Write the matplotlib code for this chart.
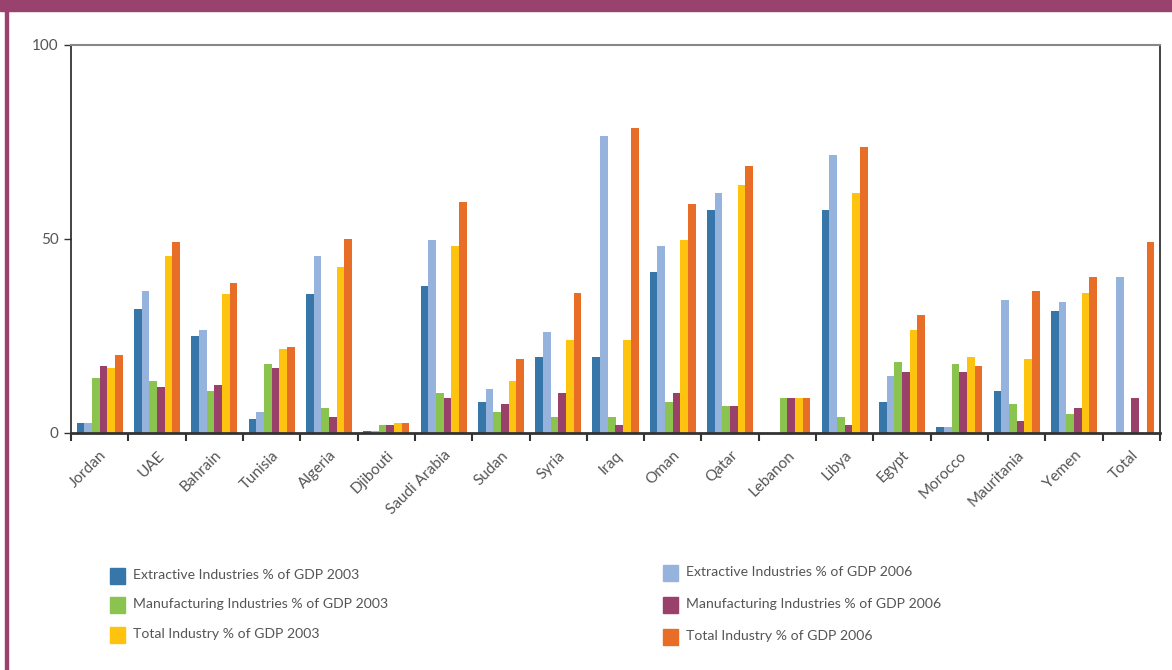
import numpy as np
import matplotlib
matplotlib.use("Agg")
import matplotlib.pyplot as plt
from matplotlib.patches import Rectangle

countries = ["Jordan", "UAE", "Bahrain", "Tunisia", "Algeria", "Djibouti",
             "Saudi Arabia", "Sudan", "Syria", "Iraq", "Oman", "Qatar",
             "Lebanon", "Libya", "Egypt", "Morocco", "Mauritania", "Yemen", "Total"]

extractive_2003 = [2.7, 31.9, 24.9, 3.7, 35.8, 0.6, 38.0, 8.0, 19.6, 19.6, 41.6, 57.5,
                   0, 57.5, 8.0, 1.6, 10.9, 31.4, 0]
extractive_2006 = [2.7, 36.7, 26.5, 5.5, 45.5, 0.6, 49.8, 11.4, 26.0, 76.5, 48.3, 61.9,
                   0, 71.6, 14.7, 1.6, 34.2, 33.7, 40.1]
manufacturing_2003 = [14.3, 13.4, 10.8, 17.8, 6.5, 2.1, 10.3, 5.5, 4.2, 4.2, 8.0, 7.0,
                      9.1, 4.2, 18.3, 17.8, 7.5, 5.0, 0]
manufacturing_2006 = [17.3, 11.9, 12.4, 16.8, 4.2, 2.1, 9.1, 7.5, 10.3, 2.1, 10.3, 7.0,
                      9.1, 2.1, 15.7, 15.7, 3.1, 6.5, 9.1]
total_2003 = [16.8, 45.5, 35.8, 21.6, 42.9, 2.6, 48.3, 13.4, 23.9, 23.9, 49.8, 63.9,
              9.1, 61.9, 26.5, 19.6, 19.1, 36.2, 0]
total_2006 = [20.1, 49.3, 38.6, 22.1, 50.0, 2.6, 59.6, 19.1, 36.2, 78.6, 59.1, 68.8,
              9.1, 73.7, 30.4, 17.3, 36.7, 40.1, 49.3]

series = [extractive_2003, extractive_2006, manufacturing_2003,
          manufacturing_2006, total_2003, total_2006]
labels = ["Extractive Industries % of GDP 2003", "Extractive Industries % of GDP 2006",
          "Manufacturing Industries % of GDP 2003", "Manufacturing Industries % of GDP 2006",
          "Total Industry % of GDP 2003", "Total Industry % of GDP 2006"]
colors = ["#3776A9", "#95B3DC", "#8BC34F", "#99406B", "#FDC30F", "#E86D26"]

plt.rcParams['font.family'] = ['Lato', 'DejaVu Sans']
txt = "#555555"

fig = plt.figure(figsize=(11.72, 6.70), dpi=100)
W, H = 1172, 670
ax = fig.add_axes([71 / W, 1 - 433 / H, (1160 - 71) / W, (433 - 45) / H])

x = np.arange(len(countries))
w = 0.134
for i, (vals, c) in enumerate(zip(series, colors)):
    ax.bar(x + (i - 2.5) * w, vals, width=w, color=c, linewidth=0, zorder=2)

ax.set_xlim(-0.5, len(countries) - 0.5)
ax.set_ylim(0, 100)
ax.set_yticks([0, 50, 100])
ax.set_yticklabels(["0", "50", "100"], fontsize=11, color=txt)
ax.tick_params(axis='y', length=5, width=1, color="#333333", pad=4)

ax.set_xticks(x)
ax.set_xticklabels(countries, rotation=45, ha='right', va='top', rotation_mode='anchor',
                   fontsize=11, color=txt)
ax.tick_params(axis='x', which='major', length=0, pad=11)
ax.set_xticks(np.arange(len(countries) + 1) - 0.5, minor=True)
ax.tick_params(axis='x', which='minor', length=6, width=1.5, color="#333333")

ax.spines['top'].set_color("#888888")
ax.spines['top'].set_linewidth(1.5)
ax.spines['left'].set_color("#222222")
ax.spines['left'].set_linewidth(1.2)
ax.spines['right'].set_color("#222222")
ax.spines['right'].set_linewidth(1.2)
ax.spines['bottom'].set_color("#333333")
ax.spines['bottom'].set_linewidth(2)

# purple frame
frame = "#99426E"
fig.add_artist(Rectangle((0, 1 - 11 / H), 1, 11 / H, transform=fig.transFigure,
                         color=frame, zorder=0))
fig.add_artist(Rectangle((5 / W, 0), 3 / W, 1, transform=fig.transFigure,
                         color=frame, zorder=0))

# legend, two columns
left_rows = [(0, 576), (2, 605), (4, 635)]
right_rows = [(1, 573), (3, 605), (5, 637)]
for col_x, rows in [(110, left_rows), (663, right_rows)]:
    for idx, yc in rows:
        fig.add_artist(Rectangle((col_x / W, 1 - (yc + 8) / H), 15 / W, 16 / H,
                                 transform=fig.transFigure, color=colors[idx]))
        fig.text((col_x + 23) / W, 1 - (yc - 1) / H, labels[idx], fontsize=10.1,
                 color=txt, va='center', ha='left')

fig.savefig("out.png", dpi=100)
